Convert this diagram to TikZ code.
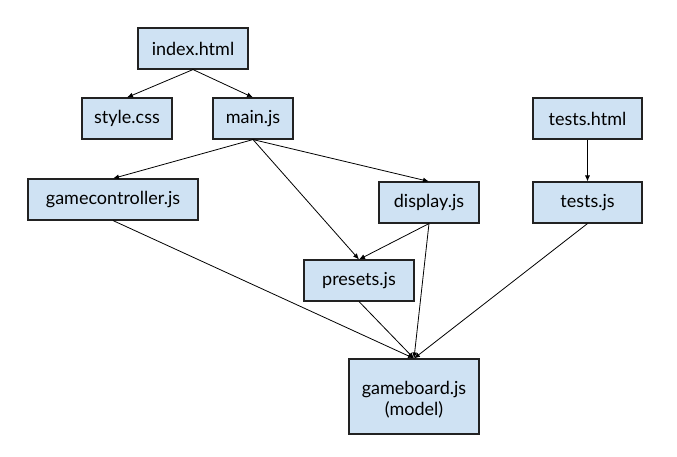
\documentclass[tikz,border=0pt]{standalone}
\usepackage{fontspec}
\setmainfont{Lato}
\usetikzlibrary{arrows.meta}
\definecolor{boxfill}{HTML}{CFE2F3}
\definecolor{boxline}{HTML}{222222}
\begin{document}
\begin{tikzpicture}[x=1pt,y=-1pt,
  filebox/.style={draw=boxline,line width=1.1pt,fill=boxfill,inner sep=0pt,
    minimum height=41pt,font=\fontsize{18}{21}\selectfont},
  conn/.style={draw=black,line width=0.8pt,-{Latex[length=6pt,width=5pt]}}]
\useasboundingbox (0,0) rectangle (677,456);
\node[filebox,minimum width=110pt] (index) at (193,48.5) {index.html};
\node[filebox,minimum width=90pt] (style) at (127,118.5) {style.css};
\node[filebox,minimum width=80pt] (main) at (253,118.5) {main.js};
\node[filebox,minimum width=109pt] (testshtml) at (587.5,118.5) {tests.html};
\node[filebox,minimum width=170pt] (gc) at (113,199.5) {gamecontroller.js};
\node[filebox,minimum width=100pt] (display) at (429,202.5) {display.js};
\node[filebox,minimum width=109pt] (testsjs) at (587.5,202.5) {tests.js};
\node[filebox,minimum width=110pt] (presets) at (359,280.5) {presets.js};
\node[filebox,minimum width=130pt,minimum height=75pt,align=center,
  text height=40pt] (gameboard) at (414,396.5) {gameboard.js\\(model)};
\draw[conn] (index.south) -- (style.north);
\draw[conn] (index.south) -- (main.north);
\draw[conn] (main.south) -- (gc.north);
\draw[conn] (main.south) -- (display.north);
\draw[conn] (main.south) -- (presets.north);
\draw[conn] (display.south) -- (presets.north);
\draw[conn] (display.south) -- (gameboard.north);
\draw[conn] (gc.south) -- (gameboard.north);
\draw[conn] (presets.south) -- (gameboard.north);
\draw[conn] (testsjs.south) -- (gameboard.north);
\draw[conn] (testshtml.south) -- (testsjs.north);
\end{tikzpicture}
\end{document}
